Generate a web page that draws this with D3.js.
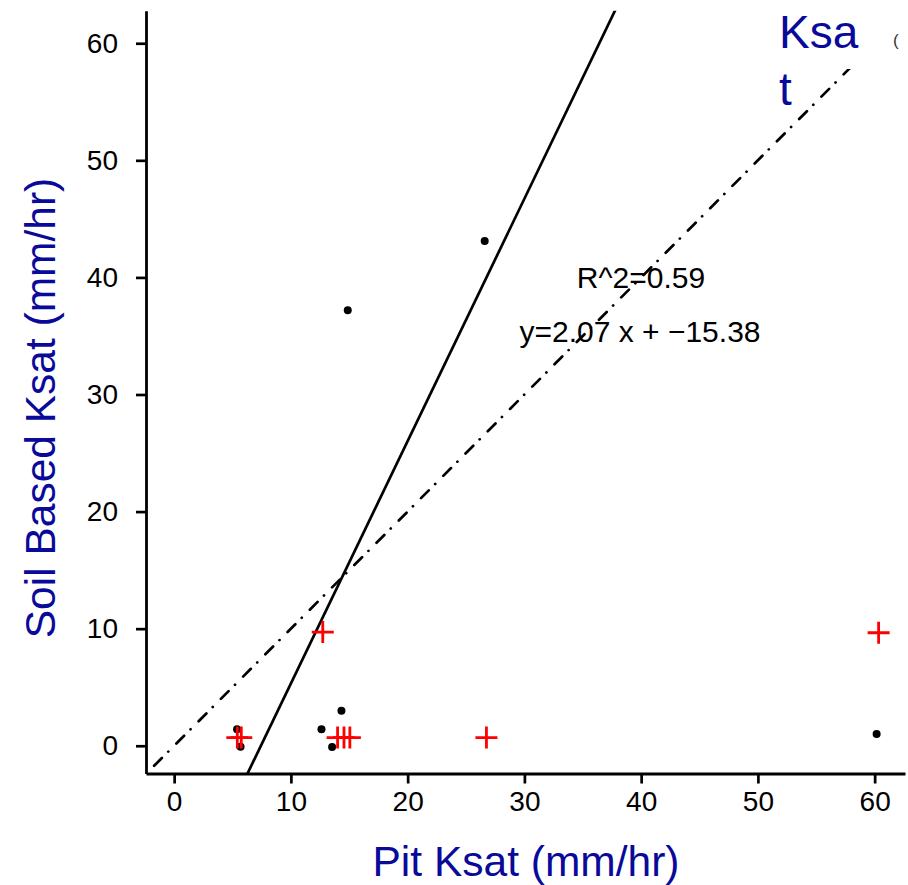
<!DOCTYPE html>
<html>
<head>
<meta charset="utf-8">
<script src="https://cdn.jsdelivr.net/npm/d3@7"></script>
<style>
body { margin: 0; background: #fff; }
svg { display: block; font-family: "Liberation Sans", Arial, sans-serif; }
</style>
</head>
<body>
<svg id="plot"></svg>
<script>
// pit ksat vs soil based ksat (black dots)
var pitKsat  = [26.6, 14.87, 60.17, 14.33, 12.62, 13.53, 5.39, 5.69];
var soilKsat = [43.1, 37.2, 1.0, 2.99, 1.40, -0.1, 1.40, -0.09];
// second set (red crosses)
var crossX = [5.41, 5.75, 14.0, 14.55, 15.05, 26.75, 12.73, 60.34];
var crossY = [0.7, 0.7, 0.7, 0.7, 0.7, 0.7, 9.71, 9.65];
var fitSlope = 2.07, fitIntercept = -15.38;
var xTicks = [0, 10, 20, 30, 40, 50, 60];
var yTicks = [0, 10, 20, 30, 40, 50, 60];
var xDomain = [-2.41, 62.6];
var yDomain = [-2.37, 62.78];

var W = 908, H = 885;
var svg = d3.select('#plot').attr('width', W).attr('height', H);
var xscale = d3.scaleLinear().domain(xDomain).range([146, 905]);
var yscale = d3.scaleLinear().domain(yDomain).range([773.5, 10.7]);

svg.append('clipPath').attr('id', 'clip').append('rect')
    .attr('x', xscale.range()[0]).attr('y', yscale.range()[1])
    .attr('width', xscale.range()[1] - xscale.range()[0])
    .attr('height', yscale.range()[0] - yscale.range()[1]);

var g = svg.append('g').attr('clip-path', 'url(#clip)');

// 1:1 line
g.append('line')
    .attr('x1', xscale(xDomain[0])).attr('y1', yscale(xDomain[0]))
    .attr('x2', xscale(xDomain[1])).attr('y2', yscale(xDomain[1]))
    .attr('stroke', '#000').attr('stroke-width', 2.7)
    .attr('stroke-dasharray', '0.1,11.4,11,9').attr('stroke-linecap', 'round');

// fitted line
var fy = function(x) { return fitSlope * x + fitIntercept; };
g.append('line')
    .attr('x1', xscale(xDomain[0])).attr('y1', yscale(fy(xDomain[0])))
    .attr('x2', xscale(xDomain[1])).attr('y2', yscale(fy(xDomain[1])))
    .attr('stroke', '#000').attr('stroke-width', 2.7);

// legend box (white, hides top of 1:1 line)
svg.append('rect').attr('x', 776).attr('y', 0).attr('width', 132).attr('height', 69).attr('fill', '#fff');
svg.append('text').attr('x', 779).attr('y', 48).attr('font-size', 46).attr('fill', '#0a0a9a').text('Ksa');
svg.append('text').attr('x', 779).attr('y', 105).attr('font-size', 46).attr('fill', '#0a0a9a').text('t');
svg.append('text').attr('x', 893).attr('y', 46).attr('font-size', 17).attr('fill', '#333').text('(');

// points
var pts = d3.zip(pitKsat, soilKsat);
svg.selectAll('circle.pt').data(pts).enter().append('circle')
    .attr('class', 'pt')
    .attr('cx', function(d) { return xscale(d[0]); })
    .attr('cy', function(d) { return yscale(d[1]); })
    .attr('r', 4).attr('fill', '#000');

var crosses = d3.zip(crossX, crossY);
svg.selectAll('path.cr').data(crosses).enter().append('path')
    .attr('class', 'cr')
    .attr('d', function(d) {
        var cx = xscale(d[0]), cy = yscale(d[1]), s = 11;
        return 'M' + (cx - s) + ',' + cy + 'H' + (cx + s) + 'M' + cx + ',' + (cy - s) + 'V' + (cy + s);
    })
    .attr('stroke', '#ff0000').attr('stroke-width', 2.8).attr('fill', 'none');

// fit annotation
svg.append('text').attr('x', 641).attr('y', 288).attr('text-anchor', 'middle')
    .attr('font-size', 30).attr('fill', '#000').text('R^2=0.59');
svg.append('text').attr('x', 640).attr('y', 342).attr('text-anchor', 'middle')
    .attr('font-size', 30).attr('fill', '#000').text('y=2.07 x + \u221215.38');

// axes
var xa = svg.append('g').attr('transform', 'translate(0,' + yscale.range()[0] + ')')
    .call(d3.axisBottom(xscale).tickValues(xTicks).tickSizeInner(10).tickSizeOuter(0).tickPadding(8));
var ya = svg.append('g').attr('transform', 'translate(' + xscale.range()[0] + ',0)')
    .call(d3.axisLeft(yscale).tickValues(yTicks).tickSizeInner(10).tickSizeOuter(0).tickPadding(18));
[xa, ya].forEach(function(a) {
    a.select('.domain').attr('stroke-width', 2.8).attr('stroke', '#000');
    a.selectAll('.tick line').attr('stroke-width', 2.7).attr('stroke', '#000');
    a.selectAll('.tick text').attr('font-size', 28).attr('fill', '#000')
        .attr('font-family', '"Liberation Sans", Arial, sans-serif');
});

// axis titles
svg.append('text').attr('x', 526).attr('y', 876).attr('text-anchor', 'middle')
    .attr('font-size', 42.5).attr('fill', '#0a0a9a').text('Pit Ksat (mm/hr)');
svg.append('text').attr('transform', 'translate(55,408) rotate(-90)').attr('text-anchor', 'middle')
    .attr('font-size', 42.5).attr('fill', '#0a0a9a').text('Soil Based Ksat (mm/hr)');
</script>
</body>
</html>
